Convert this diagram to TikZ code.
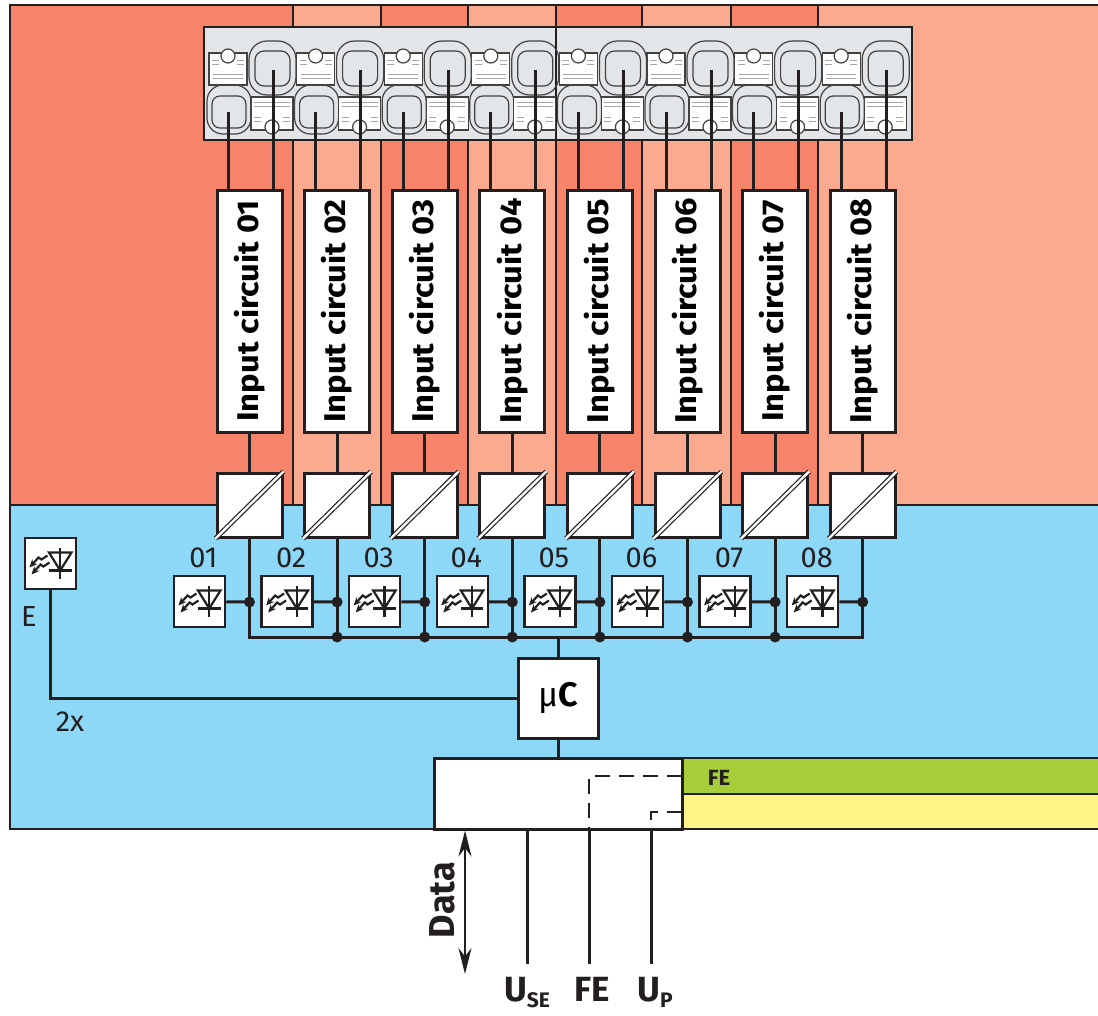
\documentclass[tikz,border=0pt]{standalone}
\usepackage{fontspec}
\setmainfont{Fira Sans}
\usetikzlibrary{arrows.meta,calc}

\definecolor{redA}{HTML}{F5846A}
\definecolor{redB}{HTML}{F9AA8F}
\definecolor{sky}{HTML}{8DD8F6}
\definecolor{fegreen}{HTML}{A6CE39}
\definecolor{upyellow}{HTML}{FFF385}
\definecolor{termgray}{HTML}{E3E6E9}
\definecolor{ink}{HTML}{231F20}

% led symbol, drawn round the centre of a node
\newcommand{\ledsym}[1]{%
  \begin{scope}[shift={(#1)}, line width=2.2pt]
    \draw[ink, line join=miter] (-1.5,-11) -- (21,-11) -- (9.7,7) -- cycle;
    \draw[ink] (-1.5,7) -- (21,7);
    \draw[ink] (9.7,-16) -- (9.7,15.5);
    \draw[ink, -{Stealth[length=8pt,width=7pt]}] (-3,-8) -- (-9,-4) -- (-12,-6) -- (-21,4);
    \draw[ink, -{Stealth[length=8pt,width=7pt]}] (-1,-1) -- (-7,3) -- (-10,1) -- (-19,11);
  \end{scope}}

\begin{document}
\begin{tikzpicture}[x=1pt, y=-1pt,
  box/.style={draw=ink, fill=white, line width=3pt, inner sep=0pt},
  circuit/.style={box, minimum width=65pt, minimum height=242pt},
  conv/.style={box, minimum width=65pt, minimum height=64pt},
  ledbox/.style={box, line width=2.5pt, minimum width=51pt, minimum height=51pt},
  wire/.style={draw=ink, line width=3pt},
  jdot/.style={circle, fill=ink, inner sep=0pt, minimum size=11pt},
  term/.style={draw=ink!85, line width=1.2pt},
  hair/.style={draw=gray!70, line width=1pt},
  lbl/.style={text=ink, inner sep=0pt, font=\fontsize{29}{29}\selectfont},
  big/.style={text=ink, inner sep=0pt, font=\fontsize{35}{35}\selectfont\bfseries}]

\useasboundingbox (0,0) rectangle (1098,1015);

% housing
\fill[redA] (10,5) rectangle (1098,505);
\foreach \a/\b in {293/381, 468/556, 642/731, 818/1098}
  \fill[redB] (\a,5) rectangle (\b,505);
\foreach \a in {293,381,468,556,642,731,818}
  \draw[ink, line width=1.5pt] (\a,5) -- (\a,505);
\fill[sky] (10,505) rectangle (1098,829);
\draw[ink, line width=1.5pt] (1098,5) -- (10,5) -- (10,829) -- (1098,829);
\draw[ink, line width=2pt] (10,505) -- (1098,505);

% terminal block
\filldraw[fill=termgray, draw=ink, line width=1.5pt] (204,27) rectangle (912,140);
\draw[ink, line width=1.5pt] (556,27) -- (556,140);
\foreach \i in {1,...,8}{
  \pgfmathsetmacro\L{217+87.6*(\i-1)}
  \draw[term, rounded corners=16pt] (\L-10,85) rectangle (\L+34,134);
  \draw[term, rounded corners=8pt] (\L-5,96) rectangle (\L+29,128);
  \draw[term, rounded corners=18pt] (\L+32,41) rectangle (\L+79,95);
  \draw[term, rounded corners=9pt] (\L+38,51) rectangle (\L+73,86);
  \filldraw[term, fill=white] (\L-8,53) rectangle (\L+30,85);
  \filldraw[term, fill=white] (\L+11,56) circle (7pt);
  \draw[hair] (\L-5,60) -- (\L+2,60) (\L+20,60) -- (\L+27,60)
              (\L-5,64) -- (\L+2,64) (\L+20,64) -- (\L+27,64)
              (\L-4,74) -- (\L+26,74) (\L-4,78) -- (\L+26,78);
  \filldraw[term, fill=white] (\L+34,97) rectangle (\L+76,130);
  \filldraw[term, fill=white] (\L+55,127) circle (7pt);
  \draw[hair] (\L+37,102) -- (\L+73,102) (\L+37,106) -- (\L+73,106)
              (\L+37,117) -- (\L+44,117) (\L+66,117) -- (\L+73,117)
              (\L+37,121) -- (\L+44,121) (\L+66,121) -- (\L+73,121);
  \coordinate (tA\i) at (\L+11,112);
  \coordinate (tB\i) at (\L+56,70);
}

% channels
\foreach \i in {1,...,8}{
  \pgfmathsetmacro\X{249.5+87.6*(\i-1)}
  \node[circuit] (ic\i) at (\X,311) {\rotatebox{90}{\scalebox{1.09}[1]{\fontsize{30}{30}\selectfont\bfseries Input circuit 0\i}}};
  \draw[wire] (tA\i) -- (tA\i |- ic\i.north);
  \draw[wire] (tB\i) -- (tB\i |- ic\i.north);
  \node[conv] (cv\i) at (\X,505) {};
  \draw[ink, line width=1.2pt, double=white, double distance=2.4pt] (cv\i.south west) -- (cv\i.north east);
  \draw[wire] (ic\i) -- (cv\i);
  \node[ledbox] (led\i) at (\X-50,601.5) {};
  \ledsym{led\i}
  \node[lbl] (nr\i) at (\X-46,558) {0\i};
  \coordinate (j\i) at (\X,602);
  \coordinate (b\i) at (\X,637);
  \draw[wire] (led\i) -- (j\i);
}
\draw[wire] (cv1) -- (b1) -- (b8) -- (cv8);
\foreach \i in {2,...,7}
  \draw[wire] (cv\i) -- (b\i);
\foreach \i in {1,...,8}
  \node[jdot] (dj\i) at (j\i) {};
\foreach \i in {2,...,7}
  \node[jdot] (db\i) at (b\i) {};

% controller
\node[box, minimum width=80pt, minimum height=80pt] (uc) at (558,698) {\fontsize{34}{34}\selectfont µ\textbf{C}};
\draw[wire] (uc) -- (uc |- b1);

\node[ledbox] (ledE) at (50.5,563.5) {};
\ledsym{ledE}
\draw[wire] (ledE) |- (uc);
\node[lbl] (lE) at (29,617) {E};
\node[lbl] (l2x) at (70,722) {2x};

% interface
\fill[fegreen] (682,758) rectangle (1098,794);
\fill[upyellow] (682,794) rectangle (1098,829);
\draw[ink, line width=2pt] (682,758) -- (1098,758) (682,794) -- (1098,794) (682,829) -- (1098,829);
\node[box, minimum width=248pt, minimum height=71pt] (ifc) at (558,793.5) {};
\node[text=ink, inner sep=0pt, font=\fontsize{22}{22}\selectfont\bfseries] (lFE) at (719,778) {FE};
\draw[wire] (uc) -- (ifc);

\coordinate (feS) at (682,776);
\coordinate (upS) at (682,812);
\coordinate (use) at (527,964);
\coordinate (fe) at (589,964);
\coordinate (up) at (651,964);
\coordinate (dat) at (465,974);
\draw[ink, line width=1.5pt, dash pattern=on 15pt off 9pt] (feS) -| (fe |- ifc.south);
\draw[ink, line width=1.5pt, dash pattern=on 15pt off 9pt] (upS) -| (up |- ifc.south);
\draw[wire] (use |- ifc.south) -- (use);
\draw[wire] (fe |- ifc.south) -- (fe);
\draw[wire] (up |- ifc.south) -- (up);
\draw[ink, line width=1.5pt, {Stealth[length=26pt,width=13pt]}-{Stealth[length=26pt,width=13pt]}] (dat |- ifc.south) -- (dat);
\node[big, rotate=90, font=\fontsize{36}{36}\selectfont\bfseries] (lData) at (442,900) {Data};

\node[big, anchor=base] (lUSE) at (527,1001) {U\raisebox{-6pt}{\fontsize{21}{21}\selectfont SE}};
\node[big, anchor=base] (lFEb) at (592,1001) {FE};
\node[big, anchor=base] (lUP) at (655,1001) {U\raisebox{-6pt}{\fontsize{21}{21}\selectfont P}};

\end{tikzpicture}
\end{document}
